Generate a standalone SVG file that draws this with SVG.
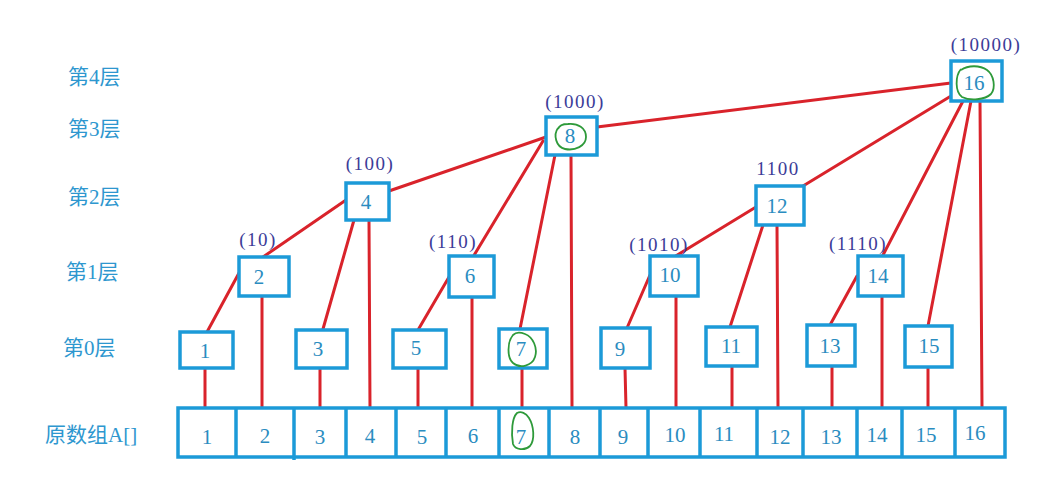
<svg xmlns="http://www.w3.org/2000/svg" width="1040" height="482" viewBox="0 0 1040 482">
<style>
.bg{fill:#ffffff}
.box{fill:#ffffff;stroke:#1c9ad8;stroke-width:3.5}
.num{font-family:"Liberation Serif","Noto Sans CJK SC",serif;font-size:21px;fill:#2a8cc0;text-anchor:middle}
.bin{font-family:"Liberation Serif","Noto Sans CJK SC",serif;font-size:19px;fill:#3c3c98;text-anchor:middle;letter-spacing:1.5px}
.lvl{font-family:"Liberation Serif","Noto Sans CJK SC",serif;font-size:21px;fill:#2e97cf}
.edge{stroke:#d9232b;stroke-width:3;fill:none;stroke-linecap:round}
.mark{stroke:#2e9a3a;stroke-width:1.8;fill:none}
</style>
<rect class="bg" x="0" y="0" width="1040" height="482"/>
<g id="level-labels">
<text class="lvl" x="68" y="84">第4层</text>
<text class="lvl" x="68" y="136">第3层</text>
<text class="lvl" x="68" y="204">第2层</text>
<text class="lvl" x="66" y="279">第1层</text>
<text class="lvl" x="63" y="355">第0层</text>
<text class="lvl" x="45" y="442">原数组A[]</text>
</g>
<g id="connectors">
<line class="edge" x1="239" y1="273" x2="207" y2="332"/>
<line class="edge" x1="205" y1="368" x2="205" y2="408"/>
<line class="edge" x1="262" y1="296" x2="262" y2="408"/>
<line class="edge" x1="346" y1="200" x2="263" y2="257"/>
<line class="edge" x1="354" y1="220" x2="323" y2="329"/>
<line class="edge" x1="369" y1="220" x2="370" y2="408"/>
<line class="edge" x1="320" y1="368" x2="320" y2="408"/>
<line class="edge" x1="449" y1="277" x2="418" y2="330"/>
<line class="edge" x1="418" y1="368" x2="418" y2="408"/>
<line class="edge" x1="472" y1="297" x2="472" y2="408"/>
<line class="edge" x1="546" y1="137" x2="389" y2="191"/>
<line class="edge" x1="543" y1="141" x2="473" y2="257"/>
<line class="edge" x1="555" y1="155" x2="520" y2="329"/>
<line class="edge" x1="571" y1="155" x2="572" y2="408"/>
<line class="edge" x1="522" y1="368" x2="522" y2="408"/>
<line class="edge" x1="951" y1="83" x2="597" y2="127"/>
<line class="edge" x1="951" y1="96" x2="803" y2="186"/>
<line class="edge" x1="963" y1="101" x2="882" y2="257"/>
<line class="edge" x1="971" y1="101" x2="928" y2="326"/>
<line class="edge" x1="980" y1="101" x2="982" y2="408"/>
<line class="edge" x1="756" y1="207" x2="674" y2="257"/>
<line class="edge" x1="763" y1="225" x2="730" y2="327"/>
<line class="edge" x1="777" y1="225" x2="778" y2="408"/>
<line class="edge" x1="650" y1="275" x2="627" y2="328"/>
<line class="edge" x1="676" y1="296" x2="676" y2="408"/>
<line class="edge" x1="625" y1="368" x2="626" y2="408"/>
<line class="edge" x1="732" y1="366" x2="732" y2="408"/>
<line class="edge" x1="857" y1="276" x2="830" y2="325"/>
<line class="edge" x1="882" y1="296" x2="882" y2="408"/>
<line class="edge" x1="832" y1="366" x2="832" y2="408"/>
<line class="edge" x1="928" y1="367" x2="928" y2="408"/>
</g>
<g id="array">
<rect class="box" x="178" y="408" width="827" height="49"/>
<path class="box" d="M236 408V457M294 408V460M346 408V457M396 408V457M446 408V457M499 408V457M549 408V457M600 408V457M648 408V457M700 408V457M757 408V457M803 408V457M857 408V457M902 408V457M955 408V457"/>
<text class="num" x="207" y="444">1</text>
<text class="num" x="265" y="443">2</text>
<text class="num" x="320" y="444">3</text>
<text class="num" x="370" y="443">4</text>
<text class="num" x="422" y="444">5</text>
<text class="num" x="473" y="443">6</text>
<text class="num" x="521" y="444">7</text>
<text class="num" x="575" y="444">8</text>
<text class="num" x="623" y="444">9</text>
<text class="num" x="675" y="442">10</text>
<text class="num" x="724" y="441">11</text>
<text class="num" x="780" y="444">12</text>
<text class="num" x="831" y="444">13</text>
<text class="num" x="877" y="442">14</text>
<text class="num" x="926" y="442">15</text>
<text class="num" x="975" y="440">16</text>
<path class="mark" d="M517 413C512 418 511 432 513 444C515 450 525 451 530 446C535 440 534 426 529 418C526 413 521 411 517 413Z"/>
</g>
<g id="node-1"><rect class="box" x="180" y="332" width="53" height="36"/><text class="num" x="205" y="358">1</text></g>
<g id="node-2"><rect class="box" x="239" y="257" width="50" height="39"/><text class="num" x="259" y="284">2</text></g>
<g id="node-3"><rect class="box" x="296" y="330" width="51" height="38"/><text class="num" x="318" y="356">3</text></g>
<g id="node-4"><rect class="box" x="346" y="183" width="43" height="37"/><text class="num" x="366" y="209">4</text></g>
<g id="node-5"><rect class="box" x="393" y="330" width="53" height="38"/><text class="num" x="416" y="355">5</text></g>
<g id="node-6"><rect class="box" x="449" y="256" width="45" height="41"/><text class="num" x="470" y="283">6</text></g>
<g id="node-7"><rect class="box" x="499" y="329" width="48" height="39"/><text class="num" x="521" y="356">7</text>
<path class="mark" d="M513 335C507 342 507 358 513 363C520 369 532 366 535 357C538 348 533 337 525 334C520 332 516 332 513 335Z"/></g>
<g id="node-8"><rect class="box" x="546" y="117" width="51" height="38"/><text class="num" x="570" y="143">8</text>
<path class="mark" d="M558 128C553 135 556 147 565 149C575 151 586 146 586 137C586 128 578 123 568 124C563 124 559 126 558 129"/></g>
<g id="node-9"><rect class="box" x="601" y="328" width="49" height="40"/><text class="num" x="620" y="356">9</text></g>
<g id="node-10"><rect class="box" x="650" y="256" width="48" height="40"/><text class="num" x="670" y="282">10</text></g>
<g id="node-11"><rect class="box" x="706" y="327" width="51" height="39"/><text class="num" x="731" y="353">11</text></g>
<g id="node-12"><rect class="box" x="756" y="186" width="48" height="39"/><text class="num" x="777" y="213">12</text></g>
<g id="node-13"><rect class="box" x="807" y="325" width="48" height="41"/><text class="num" x="830" y="353">13</text></g>
<g id="node-14"><rect class="box" x="858" y="256" width="45" height="40"/><text class="num" x="878" y="283">14</text></g>
<g id="node-15"><rect class="box" x="905" y="326" width="47" height="41"/><text class="num" x="929" y="353">15</text></g>
<g id="node-16"><rect class="box" x="951" y="61" width="51" height="40"/><text class="num" x="974" y="90">16</text>
<path class="mark" d="M961 69C955 76 955 92 962 97C970 101 985 100 991 94C996 88 994 75 987 70C980 65 968 65 961 70"/></g>
<g id="binary-labels">
<text class="bin" x="258" y="246">(10)</text>
<text class="bin" x="370" y="170">(100)</text>
<text class="bin" x="453" y="248">(110)</text>
<text class="bin" x="575" y="108">(1000)</text>
<text class="bin" x="659" y="251">(1010)</text>
<text class="bin" x="778" y="175">1100</text>
<text class="bin" x="858" y="250">(1110)</text>
<text class="bin" x="986" y="51">(10000)</text>
</g>
</svg>
